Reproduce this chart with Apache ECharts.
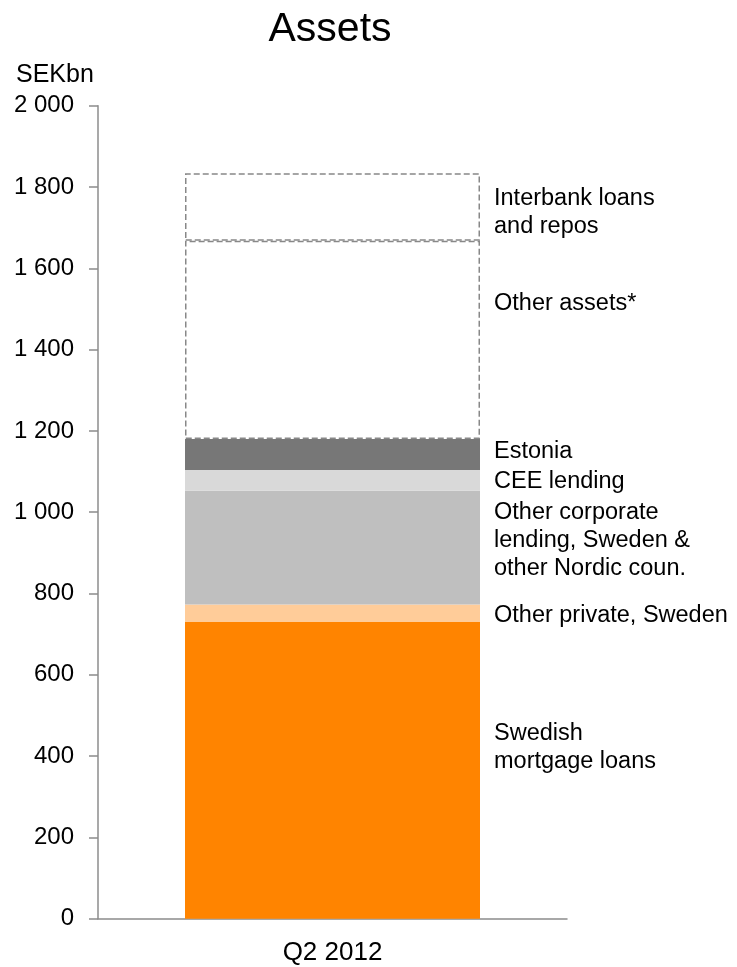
<!DOCTYPE html>
<html>
<head>
<meta charset="utf-8">
<script src="https://cdn.jsdelivr.net/npm/echarts@6/dist/echarts.min.js"></script>
<style>
  html, body { margin: 0; padding: 0; background: #fff; }
  #chart { width: 737px; height: 967px; }
</style>
</head>
<body>
<div id="chart"></div>
<script>
// Balance sheet, asset side, SEK bn
const categories = ['Q2 2012'];

// Stacked segments, bottom to top
const segmentNames = [
  'Swedish\nmortgage loans',
  'Other private, Sweden',
  'Other corporate\nlending, Sweden &\nother Nordic coun.',
  'CEE lending',
  'Estonia',
  'Other assets*',
  'Interbank loans\nand repos'
];
const segmentValues = [730, 43, 280, 51, 76, 488, 166];
const segmentColors = ['#FF8400', '#FFCC99', '#BFBFBF', '#D9D9D9', '#777777', null, null];
const labelShiftY = [-23, 2, -7, 1, -3, -36, 6];

const yTicks = { min: 0, max: 2000, step: 200 };

const fmtThousands = v => String(v).replace(/\B(?=(\d{3})+(?!\d))/g, ' ');
const FONT = '"Liberation Sans", Arial, sans-serif';

const series = segmentNames.map((name, i) => {
  const dashed = segmentColors[i] === null;
  return {
    name: name,
    type: 'bar',
    stack: 'assets',
    barWidth: 295,
    data: [segmentValues[i]],
    itemStyle: dashed
      ? { color: 'rgba(255,255,255,0)', borderColor: '#888888', borderWidth: 1.5, borderType: [6, 3] }
      : { color: segmentColors[i] },
    label: {
      show: true,
      position: 'right',
      distance: 14,
      offset: [0, labelShiftY[i]],
      formatter: () => name,
      color: '#000',
      fontFamily: FONT,
      fontSize: 23.5,
      lineHeight: 28,
      align: 'left'
    },
    emphasis: { disabled: true }
  };
});

const chart = echarts.init(document.getElementById('chart'), null, { renderer: 'canvas' });
chart.setOption({
  animation: false,
  backgroundColor: '#ffffff',
  title: [
    {
      text: 'Assets',
      left: 325,
      top: 4,
      textAlign: 'center',
      textStyle: { fontFamily: FONT, fontSize: 41, fontWeight: 'normal', color: '#000' }
    },
    {
      text: 'SEKbn',
      left: 11,
      top: 58,
      textStyle: { fontFamily: FONT, fontSize: 25, fontWeight: 'normal', color: '#000' }
    }
  ],
  grid: { left: 98, right: 170, top: 105.7, bottom: 48.3, containLabel: false },
  xAxis: {
    type: 'category',
    data: categories,
    axisLine: { show: true, lineStyle: { color: '#8c8c8c', width: 1.5 } },
    axisTick: { show: false },
    axisLabel: { color: '#000', fontFamily: FONT, fontSize: 26, margin: 21 }
  },
  yAxis: {
    type: 'value',
    min: yTicks.min,
    max: yTicks.max,
    interval: yTicks.step,
    splitLine: { show: false },
    axisLine: { show: true, lineStyle: { color: '#8c8c8c', width: 1.5 } },
    axisTick: { show: true, length: 9, lineStyle: { color: '#8c8c8c', width: 1.5 } },
    axisLabel: {
      color: '#000',
      fontFamily: FONT,
      fontSize: 24,
      margin: 24,
      formatter: v => fmtThousands(v)
    }
  },
  series: series
});
</script>
</body>
</html>
